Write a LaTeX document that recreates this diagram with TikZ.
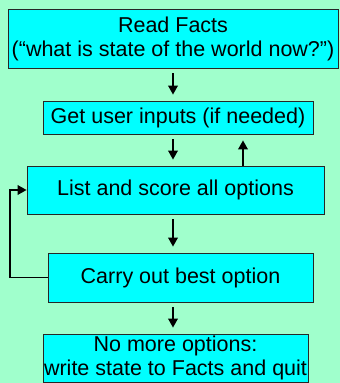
\documentclass[tikz,border=0pt]{standalone}
\usepackage{fontspec}
\setmainfont{Liberation Sans}
\usetikzlibrary{arrows.meta}
\definecolor{slidebg}{RGB}{160,255,204}
\definecolor{boxfill}{RGB}{0,255,255}

\begin{document}
\begin{tikzpicture}[x=1pt,y=1pt,
  stepbox/.style={draw=black!85,line width=0.8pt,fill=boxfill,inner sep=0pt,
    align=center,font=\fontsize{21.5}{24}\selectfont},
  flow/.style={line width=1.8pt,-{Triangle[width=9.5pt,length=9pt]}}]
\fill[slidebg] (0,0) rectangle (340,383);
\useasboundingbox (0,0) rectangle (340,383);

\node[stepbox,minimum width=330pt,minimum height=59pt] (facts) at (173,344.5) {Read Facts\\(“what is state of the world now?”)};
\node[stepbox,minimum width=270pt,minimum height=33pt] (inputs) at (178,265.5) {Get user inputs (if needed)};
\node[stepbox,minimum width=297pt,minimum height=48pt] (options) at (175.5,193) {List and score all options};
\node[stepbox,minimum width=265pt,minimum height=49pt] (carry) at (180.5,105.5) {Carry out best option};
\node[stepbox,minimum width=265pt,minimum height=48pt] (quit) at (175.5,25) {No more options:\\write state to Facts and quit};

\draw[flow,shorten <=5pt,shorten >=6pt] (facts.south) -- (facts.south |- inputs.north);
\draw[flow,shorten <=5pt,shorten >=6pt] (facts.south |- inputs.south) -- (facts.south |- options.north);
\draw[flow,shorten >=6pt] (options.north -| 243,0) -- (inputs.south -| 243,0);
\draw[flow,shorten <=5pt,shorten >=6pt] (facts.south |- options.south) -- (facts.south |- carry.north);
\draw[flow,shorten <=5pt,shorten >=6pt] (facts.south |- carry.south) -- (facts.south |- quit.north);
\draw[flow] (carry.west) -- ++(-38,0) |- (options.west);
\end{tikzpicture}
\end{document}
